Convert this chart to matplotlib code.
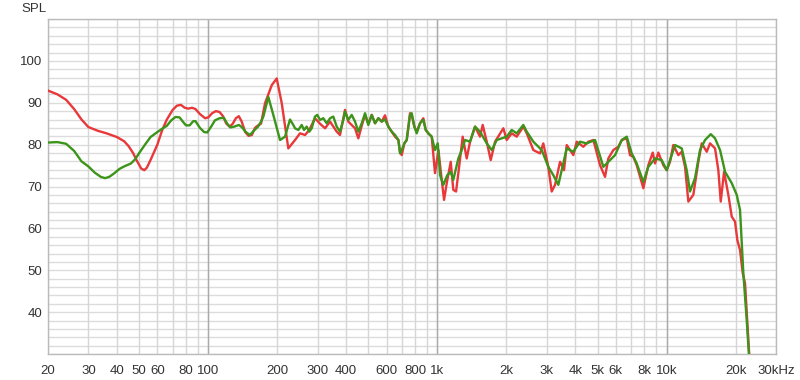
import matplotlib
matplotlib.use("Agg")
import matplotlib.pyplot as plt

red_freq = [20, 22, 24, 26, 28, 30, 33, 36, 40, 43, 45, 47, 49, 51, 52.6, 54, 56, 58, 60,
            63, 66, 70, 73, 76, 79, 82, 85, 88, 92, 97, 100, 104, 108, 112, 116, 120, 124,
            128, 132, 136, 140, 145, 150, 155, 160, 165, 170, 177, 189.3, 199, 209.3, 223.6,
            239.2, 251.5, 264.5, 276.1, 292.3, 307.4, 323.3, 340, 363.6, 375.8, 395.2, 408.5,
            437, 451.8, 467.5, 483.3, 499.4, 516.9, 534.3, 552.4, 571.5, 590.6, 610.7, 631.9,
            653.3, 675.4, 686.9, 698.7, 717.1, 734.6, 759.5, 772.4, 793.1, 812.3, 839.6, 868,
            889.2, 912.8, 944, 976, 1010, 1044, 1069, 1098,
            1143, 1173, 1206, 1246, 1289, 1342, 1388, 1459, 1534, 1576, 1641, 1708, 1784,
            1939, 2006, 2109, 2218, 2370, 2453, 2621, 2803, 2897, 3046, 3152, 3259, 3428,
            3567, 3665, 3917, 4053, 4331, 4554, 4789, 5122, 5386, 5567, 5855, 6156, 6370,
            6699, 6922, 7156, 7404, 7914, 8321, 8697, 8900, 9199, 9672, 10008, 10345, 10693,
            11247, 11638, 12030, 12435, 13075, 13749, 14225, 14963, 15465, 16262, 16810,
            17221, 17802, 18588, 19234, 19880, 20345, 20904, 21480, 21980, 22720, 22950]
red_spl = [92.9, 92.0, 90.7, 88.5, 86.0, 84.2, 83.3, 82.7, 81.8, 80.8, 79.6, 78.0, 76.0,
           74.3, 73.9, 74.5, 76.3, 78.2, 80.0, 83.5, 86.0, 88.3, 89.3, 89.5, 88.8, 88.6,
           88.8, 88.5, 87.3, 86.3, 86.5, 87.5, 88.0, 87.8, 86.8, 85.0, 84.3, 85.0, 86.3,
           86.8, 85.5, 83.0, 82.1, 82.3, 84.0, 84.6, 85.0, 89.9, 94.2, 95.8, 89.9, 79.1,
           81.1, 82.7, 82.3, 83.5, 86.3, 85.0, 83.9, 85.5, 83.1, 82.3, 88.3, 85.5,
           83.9, 81.5, 84.5, 87.1, 85.0, 87.1, 85.1, 86.3, 85.5, 87.0, 84.3, 83.1,
           81.9, 81.1, 78.3, 77.5, 80.3, 81.1, 87.5, 87.1, 84.3, 83.1, 85.1, 86.3,
           83.5, 82.7, 81.9, 73.2, 78.7, 71.6, 66.8, 70.8,
           75.9, 69.2, 68.8, 75.1, 81.9, 76.7, 80.7, 84.3, 81.9, 84.7, 80.7, 76.3, 80.7,
           83.9, 81.1, 82.7, 81.9, 84.3, 82.7, 78.7, 77.9, 80.3, 74.7, 68.8, 70.4, 75.9,
           73.9, 79.9, 77.5, 80.7, 79.5, 80.7, 81.1, 75.1, 72.3, 76.7, 78.7, 79.5, 81.1,
           81.5, 77.5, 77.1, 75.1, 69.6, 75.1, 78.1, 75.5, 78.1, 75.1, 73.9, 75.9, 79.9,
           77.5, 78.3, 74.7, 66.4, 68.0, 75.9, 80.3, 78.3, 80.3, 79.1, 73.9,
           66.4, 73.5, 68.0, 62.8, 61.6, 57.2, 54.8, 49.3, 46.9, 33.3, 29.5]

green_freq = [20, 22, 24, 26, 28, 30, 32, 34, 35.5, 37, 39, 41, 43, 46, 48, 50, 53, 56, 60,
              63, 66, 69, 72, 75, 78, 80, 83, 86, 88, 92, 96, 99, 103, 107, 112, 117, 121,
              125, 130, 136, 140, 146, 152, 158, 165, 170, 174, 182.9, 192.3, 205.7, 216.3,
              227.4, 235.1, 239.2, 247.3, 255.8, 261.8, 268.9, 276.1, 282.8, 292.3, 299.2,
              307.4, 317.8, 328.9, 340, 351.4, 363.6, 375.8, 388.5, 395.2, 408.5, 422.7, 437,
              451.8, 467.5, 483.3, 499.4, 516.9, 534.3, 552.4, 571.5, 590.6, 610.7, 631.9,
              653.3, 675.4, 686.9, 698.7, 717.1, 734.6, 759.5, 772.4, 793.1, 812.3, 839.6,
              868, 889.2, 912.8, 944, 976, 1003, 1027, 1061, 1104, 1143, 1173, 1234, 1277,
              1320, 1388, 1459, 1534, 1641,
              1726, 1815, 2006, 2109, 2218, 2370, 2453, 2621, 2851, 3046, 3204, 3369, 3486,
              3665, 3917, 4190, 4481, 4871, 5296, 5567, 5957, 6370, 6699, 7042, 7404, 7914,
              8321, 8900, 9518, 10008, 10523, 10878, 11638, 12234, 12646, 13298, 13984,
              14706, 15578, 16262, 17103, 17986, 19234, 20222, 20904, 21610, 22354, 22880]
green_spl = [80.5, 80.6, 80.2, 78.5, 76.0, 74.8, 73.3, 72.3, 72.0, 72.3, 73.2, 74.2, 74.8,
             75.5, 76.5, 78.0, 80.0, 81.8, 83.0, 83.8, 84.5, 85.8, 86.6, 86.5, 85.3, 84.6,
             84.6, 85.6, 85.6, 84.0, 83.0, 82.9, 84.3, 85.8, 86.3, 86.4, 85.0, 84.1, 84.3,
             84.7, 84.2, 83.0, 82.3, 83.3, 84.3, 85.5, 86.7, 91.4, 87.1, 81.1, 81.9,
             86.0, 84.7, 83.9, 83.5, 84.7, 83.5, 84.3, 83.1, 83.9, 86.7, 87.1,
             85.9, 86.3, 85.1, 86.3, 86.7, 84.3, 83.1, 85.9, 87.9, 85.9, 87.1, 85.5,
             83.1, 85.1, 87.5, 84.7, 87.1, 85.1, 86.3, 85.5, 86.0, 84.3, 83.1,
             82.3, 81.1, 77.9, 78.7, 80.3, 81.1, 87.1, 87.5, 84.3, 82.7, 85.1,
             85.9, 83.5, 82.7, 81.9, 78.7, 80.3, 72.7, 70.4, 72.7, 73.5, 71.6, 76.7, 78.7,
             81.1, 80.7, 84.3, 83.1, 80.3,
             78.7, 81.1, 81.9, 83.5, 82.7, 84.7, 83.1, 80.7, 78.7, 74.7, 72.7, 70.4, 73.9,
             79.1, 78.3, 80.7, 80.3, 81.1, 74.7, 75.9, 77.5, 81.1, 81.9, 77.9, 75.5, 71.1,
             74.7, 76.7, 76.3, 73.9, 77.5, 79.9, 79.1, 73.9, 68.8, 72.0, 78.7,
             81.1, 82.5, 81.5, 78.7, 73.5, 70.8, 68.0, 64.4, 49.3, 38.1, 29.5]

tick_freqs = [20, 30, 40, 50, 60, 70, 80, 90, 100, 200, 300, 400, 500, 600, 700, 800, 900,
              1000, 2000, 3000, 4000, 5000, 6000, 7000, 8000, 9000, 10000, 20000, 30000]
tick_labels = ["20", "30", "40", "50", "60", "", "80", "", "100", "200", "300", "400", "",
               "600", "", "800", "", "1k", "2k", "3k", "4k", "5k", "6k", "", "8k", "",
               "10k", "20k", "30kHz"]
decades = [100, 1000, 10000]
spl_ticks = [40, 50, 60, 70, 80, 90, 100]

plt.rcParams["font.family"] = ["Liberation Sans", "DejaVu Sans"]

fig = plt.figure(figsize=(8, 3.8), dpi=100)
ax = fig.add_axes([0.06, 0.0684, 0.91, 0.8816])

ax.set_xscale("log")
ax.set_xlim(20, 30000)
ax.set_ylim(30, 110)

# grid: every 2 dB, every frequency step, darker decade lines
for level in range(30, 111, 2):
    ax.axhline(level, color="#dcdcdc", lw=1.0, zorder=0)
for f in tick_freqs:
    ax.axvline(f, color="#d6d6d6", lw=1.0, zorder=0)
for f in decades:
    ax.axvline(f, color="#aaaaaa", lw=1.0, zorder=0)

ax.plot(red_freq, red_spl, color="#e8383a", lw=1.7, zorder=3, solid_joinstyle="round")
ax.plot(green_freq, green_spl, color="#3c941a", lw=1.7, zorder=4, solid_joinstyle="round")

ax.set_xticks(tick_freqs)
ax.set_xticklabels(tick_labels)
ax.minorticks_off()
ax.set_yticks(spl_ticks)
ax.tick_params(axis="both", length=0, labelsize=9.5, colors="#333333")
ax.tick_params(axis="x", pad=8)
ax.tick_params(axis="y", pad=4)

for side in ["left", "bottom", "top", "right"]:
    ax.spines[side].set_color("#bbbbbb")
    ax.spines[side].set_linewidth(1.0)

fig.text(0.058, 0.975, "SPL", ha="right", va="center", fontsize=9.5, color="#333333")

fig.savefig("out.png", dpi=100)
